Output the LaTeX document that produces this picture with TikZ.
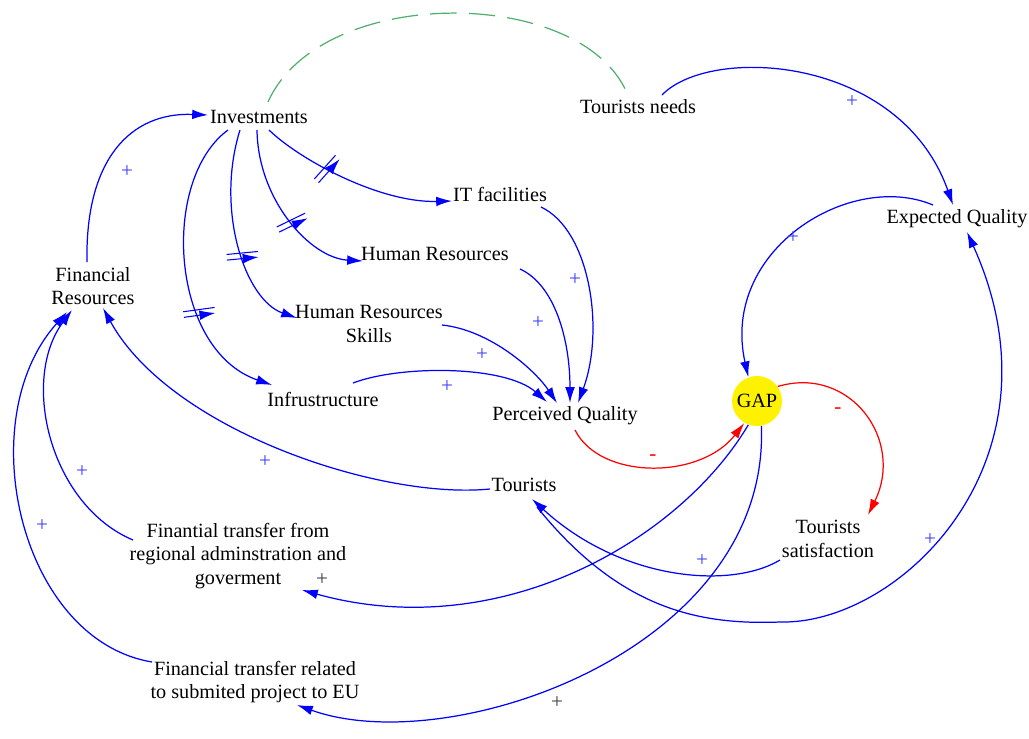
\documentclass[tikz,border=0pt]{standalone}
\usepackage{fontspec}
\setmainfont{Liberation Serif}
\newfontfamily\diagfont{Liberation Serif}
\usetikzlibrary{arrows.meta,calc,decorations.markings}
\definecolor{linkgreen}{RGB}{80,175,110}
\tikzstyle{var} = [font=\diagfont\fontsize{11.5}{13.5}\selectfont, align=center, inner sep=1pt]
\tikzstyle{gapnode} = [circle, fill=yellow, minimum size=1cm, inner sep=0pt, font=\diagfont\fontsize{11.5}{13.5}\selectfont]
\tikzstyle{arrow} = [draw, blue, line width=0.7pt, -{Latex[length=9pt,width=5.5pt]}]
\tikzstyle{negarrow} = [arrow, red]
\tikzstyle{link} = [draw, linkgreen, line width=0.7pt, dash pattern=on 15pt off 7pt]
\tikzstyle{signp} = [font=\diagfont\fontsize{12}{14}\selectfont, text=blue!75, inner sep=0pt]
\tikzstyle{signk} = [signp, text=black!75]
\tikzstyle{signm} = [signp, text=red]
\tikzset{delayed/.style={postaction={decorate}, decoration={markings, mark=at position #1 with {\draw[blue, line width=0.6pt, rotate=-15] (-1.6pt,-9pt) -- (-1.6pt,9pt) (1.6pt,-9pt) -- (1.6pt,9pt);}}}}

\begin{document}
\begin{tikzpicture}[x=0.02cm, y=-0.02cm]
    \useasboundingbox (0,0) rectangle (1029,738);
    \node (inv) [var] at (259,117) {Investments};
    \node (need) [var] at (638,107) {Tourists needs};
    \node (it) [var] at (500,194) {IT facilities};
    \node (hr) [var] at (435,254) {Human Resources};
    \node (fin) [var] at (93,286) {Financial\\Resources};
    \node (exq) [var] at (957,219) {Expected Quality};
    \node (hrs) [var] at (369,324) {Human Resources\\Skills};
    \node (infra) [var] at (323,399) {Infrustructure};
    \node (pq) [var] at (565,416) {Perceived Quality};
    \node (gap) [gapnode] at (757,401) {GAP};
    \node (tou) [var] at (524,485) {Tourists};
    \node (sat) [var] at (828,539) {Tourists\\satisfaction};
    \node (reg) [var] at (238,556) {Finantial transfer from\\regional adminstration and\\goverment};
    \node (eu) [var] at (255,682) {Financial transfer related\\to submited project to EU};

    \path [link] ($(inv)+(9,-15)$) .. controls (320,-15) and (580,-15) .. ($(need)+(-11,-14)$);
    \path [arrow] ($(fin)+(-6,-24)$) .. controls (85,160) and (130,112) .. ($(inv)+(-51,-2)$);
    \path [arrow, delayed=0.35] ($(inv)+(10,13)$) .. controls (300,160) and (380,203) .. ($(it)+(-48,7)$);
    \path [arrow, delayed=0.55] ($(inv)+(-2,13)$) .. controls (258,200) and (310,258) .. ($(hr)+(-72,7)$);
    \path [arrow, delayed=0.6] ($(inv)+(-19,13)$) .. controls (215,210) and (245,300) .. ($(hrs)+(-72,-6)$);
    \path [arrow, delayed=0.65] ($(inv)+(-31,13)$) .. controls (160,180) and (170,350) .. ($(infra)+(-51,-14)$);
    \path [arrow] ($(it)+(41,13)$) .. controls (590,230) and (605,330) .. ($(pq)+(13,-13)$);
    \path [arrow] ($(hr)+(85,15)$) .. controls (555,285) and (570,340) .. ($(pq)+(5,-13)$);
    \path [arrow] ($(hrs)+(73,1)$) .. controls (490,330) and (535,370) .. ($(pq)+(-8,-13)$);
    \path [arrow] ($(infra)+(30,-16)$) .. controls (400,365) and (505,365) .. ($(pq)+(-18,-14)$);
    \path [negarrow] ($(pq)+(10,14)$) .. controls (600,480) and (700,480) .. (gap.-120);
    \path [arrow] ($(need)+(24,-12)$) .. controls (710,45) and (900,55) .. ($(exq)+(-4,-14)$);
    \path [arrow] ($(exq)+(-24,-14)$) .. controls (850,170) and (720,250) .. (gap.110);
    \path [negarrow] (gap.35) .. controls (850,365) and (905,440) .. ($(sat)+(40,-24)$);
    \path [arrow] ($(tou)+(-34,4)$) .. controls (380,500) and (170,430) .. ($(fin)+(10,22)$);
    \path [arrow] ($(sat)+(-48,21)$) .. controls (730,590) and (620,580) .. ($(tou)+(8,14)$);
    \path [arrow] ($(tou)+(13,22)$) .. controls (620,610) and (700,625) .. (780,622) .. controls (900,625) and (1070,460) .. ($(exq)+(10,13)$);
    \path [arrow] (gap.-110) .. controls (680,540) and (500,645) .. ($(reg)+(64,34)$);
    \path [arrow] (gap.-80) .. controls (770,650) and (450,760) .. ($(eu)+(42,23)$);
    \path [arrow] ($(reg)+(-105,-16)$) .. controls (50,505) and (20,380) .. ($(fin)+(-21,24)$);
    \path [arrow] ($(eu)+(-103,-20)$) .. controls (20,640) and (-30,420) .. ($(fin)+(-26,26)$);

    \node (s1) [signp] at (127,172) {+};
    \node (s2) [signp] at (575,280) {+};
    \node (s3) [signp] at (538,323) {+};
    \node (s4) [signp] at (482,355) {+};
    \node (s5) [signp] at (447,387) {+};
    \node (s6) [signm] at (653,458) {-};
    \node (s7) [signp] at (852,102) {+};
    \node (s8) [signp] at (793,238) {+};
    \node (s9) [signm] at (838,411) {-};
    \node (s10) [signp] at (265,462) {+};
    \node (s11) [signp] at (702,561) {+};
    \node (s12) [signp] at (930,540) {+};
    \node (s13) [signk] at (322,580) {+};
    \node (s14) [signk] at (557,703) {+};
    \node (s15) [signp] at (82,472) {+};
    \node (s16) [signp] at (42,526) {+};
\end{tikzpicture}
\end{document}
